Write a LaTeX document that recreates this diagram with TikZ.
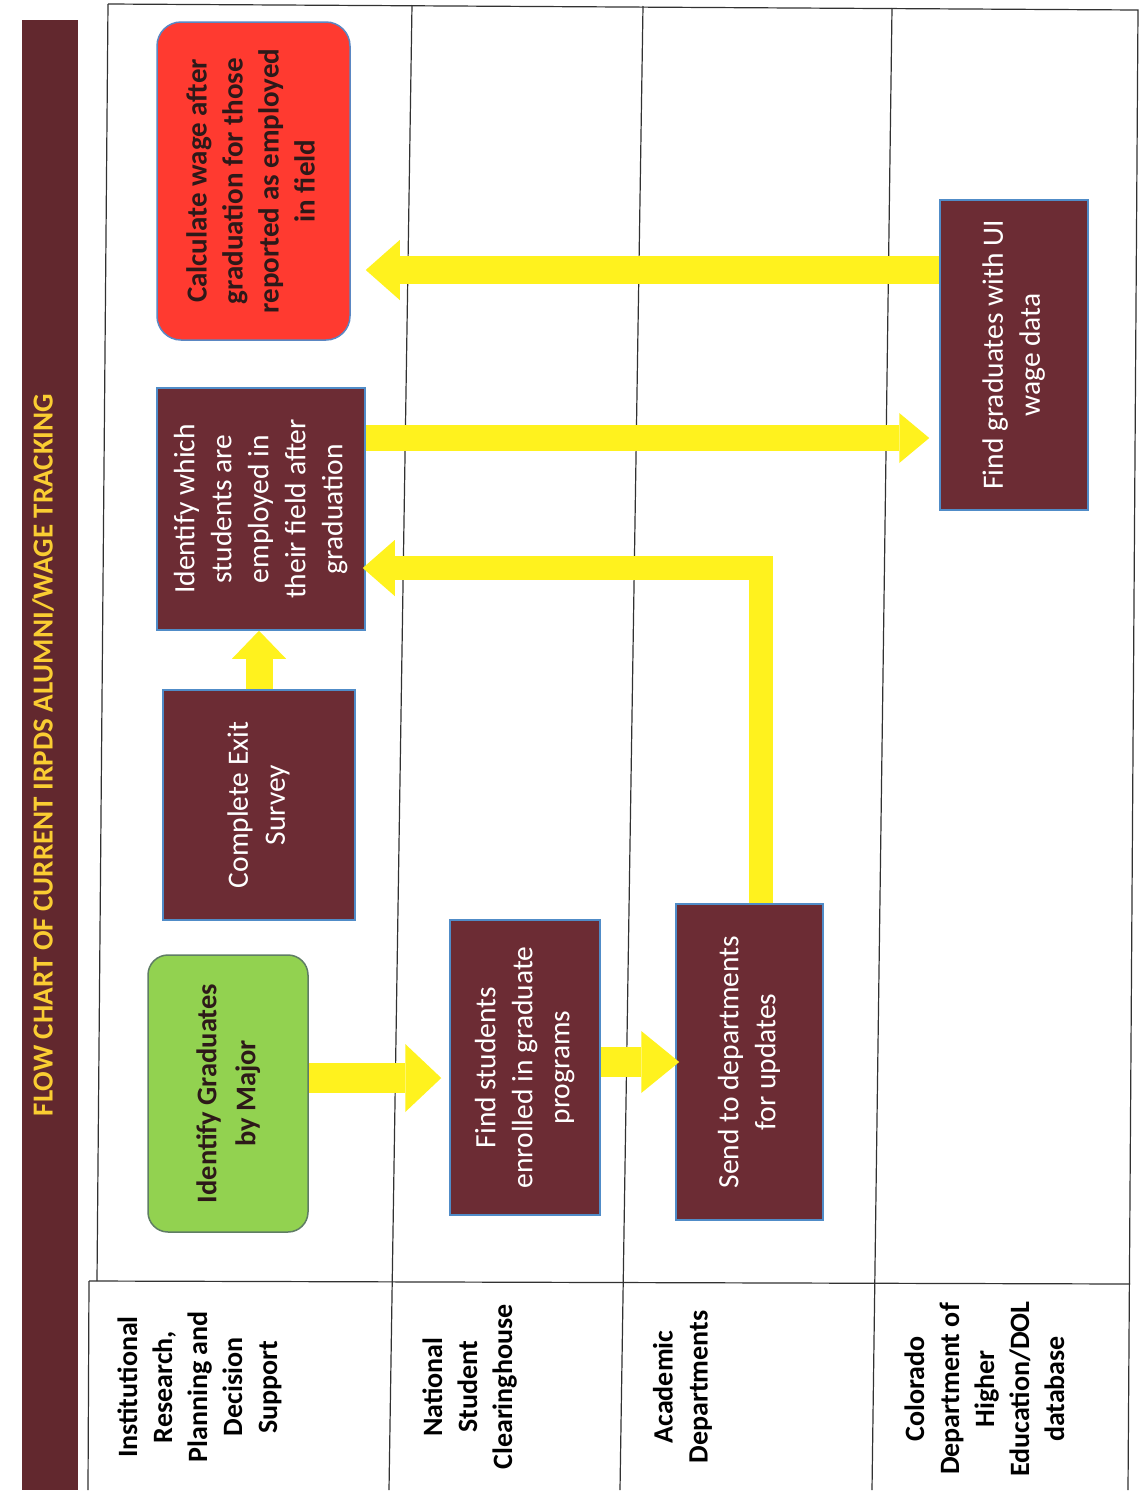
\documentclass[tikz,border=0pt]{standalone}
\usepackage{fontspec}
\setmainfont{Carlito}
\usepackage{graphicx}
\usetikzlibrary{arrows.meta}
\definecolor{boxmaroon}{RGB}{108,44,52}
\definecolor{barmaroon}{RGB}{98,40,46}
\definecolor{titleyellow}{RGB}{250,205,50}
\definecolor{arrowyellow}{RGB}{255,242,30}
\definecolor{boxgreen}{RGB}{146,210,80}
\definecolor{greenedge}{RGB}{95,125,100}
\definecolor{boxred}{RGB}{255,58,48}
\definecolor{rededge}{RGB}{90,135,195}
\definecolor{bluedge}{RGB}{80,140,200}
\definecolor{gridline}{RGB}{50,50,50}
\definecolor{darktext}{RGB}{45,25,25}
\newcommand{\rt}[1]{\rotatebox{90}{\begin{tabular}{@{}c@{}}#1\end{tabular}}}
\begin{document}
\begin{tikzpicture}[x=1pt,y=-1pt,
  mbox/.style={draw=bluedge, line width=1.5pt, fill=boxmaroon, text=white, inner sep=0pt,
    font=\fontsize{29.5}{37}\selectfont},
  gbox/.style={draw=greenedge, line width=1.5pt, fill=boxgreen, text=darktext, inner sep=0pt,
    rounded corners=20pt, font=\bfseries\fontsize{28.5}{39}\selectfont},
  rbox/.style={draw=rededge, line width=1.5pt, fill=boxred, text=darktext, inner sep=0pt,
    rounded corners=24pt, font=\bfseries\fontsize{29}{36}\selectfont},
  lanelabel/.style={inner sep=0pt, text=black, font=\bfseries\fontsize{28}{35}\selectfont},
  grid/.style={draw=gridline, line width=1.2pt},
  yarr/.style={draw=arrowyellow, line width=#1, line join=miter},
]
\useasboundingbox (0,0) rectangle (1140,1492);
\fill[white] (0,0) rectangle (1140,1492);

% title bar
\fill[barmaroon] (22,20) rectangle (78,1490);
\node[text=titleyellow, font=\bfseries\fontsize{29}{32}\selectfont, inner sep=0pt] (title) at (43,755)
  {\rotatebox{90}{FLOW CHART OF CURRENT IRPDS ALUMNI/WAGE TRACKING}};

% table grid
\draw[grid] (108,4) -- (1138,10) -- (1128,1490);
\draw[grid] (108,4) -- (97,1281);
\draw[grid] (89,1281) -- (88,1490);
\draw[grid] (89,1281) -- (1130,1284);
\draw[grid] (412,5) -- (389,1490);
\draw[grid] (643,6) -- (620,1490);
\draw[grid] (892,8) -- (872,1490);

% lane labels
\node[lanelabel] (lane1) at (200,1387) {\rt{Institutional\\Research,\\Planning and\\Decision\\Support}};
\node[lanelabel] (lane2) at (470,1387) {\rt{National\\Student\\Clearinghouse}};
\node[lanelabel] (lane3) at (683,1387) {\rt{Academic\\Departments}};
\node[lanelabel] (lane4) at (987,1389) {\rt{Colorado\\Department of\\Higher\\Education/DOL\\database}};

% boxes
\node[gbox, minimum width=160pt, minimum height=277pt] (gr) at (228,1093.5)
  {\rt{Identify Graduates\\by Major}};
\node[mbox, minimum width=192pt, minimum height=230pt] (ex) at (259,805)
  {\rt{Complete Exit\\Survey}};
\node[mbox, minimum width=208pt, minimum height=242pt] (idw) at (261,509)
  {\rt{Identify which\\students are\\employed in\\their field after\\graduation}};
\node[rbox, minimum width=193pt, minimum height=318pt] (calc) at (253.5,181)
  {\rt{Calculate wage after\\graduation for those\\reported as employed\\in field}};
\node[mbox, minimum width=150pt, minimum height=295pt] (fs) at (525,1067.5)
  {\rt{Find students\\enrolled in graduate\\programs}};
\node[mbox, minimum width=147pt, minimum height=316pt] (sd) at (749.5,1062)
  {\rt{Send to departments\\for updates}};
\node[mbox, minimum width=148pt, minimum height=310pt] (fu) at (1014,355)
  {\rt{Find graduates with UI\\wage data}};

% arrows
\draw[yarr=30pt, -{Triangle[length=36pt,width=68pt,line width=0pt]}, shorten >=8pt]
  (gr.east |- 0,1078) -- (fs.west |- 0,1078);
\draw[yarr=30pt, -{Triangle[length=38pt,width=62pt,line width=0pt]}, shorten >=-4pt]
  (fs.east |- 0,1062) -- (sd.west |- 0,1062);
\draw[yarr=27pt, -{Triangle[length=28pt,width=54pt,line width=0pt]}]
  (ex.north) -- (idw.south -| ex.north);
\draw[yarr=24pt, -{Triangle[length=32pt,width=56pt,line width=0pt]}, shorten >=-3pt]
  (sd.north -| 761,0) |- (idw.east |- 0,568);
\draw[yarr=26pt, -{Triangle[length=30pt,width=50pt,line width=0pt]}, shorten >=10pt]
  (idw.east |- 0,438) -- (fu.west |- 0,438);
\draw[yarr=28pt, -{Triangle[length=34pt,width=60pt,line width=0pt]}, shorten >=15pt]
  (fu.west |- 0,270) -- (calc.east |- 0,270);
\end{tikzpicture}
\end{document}
